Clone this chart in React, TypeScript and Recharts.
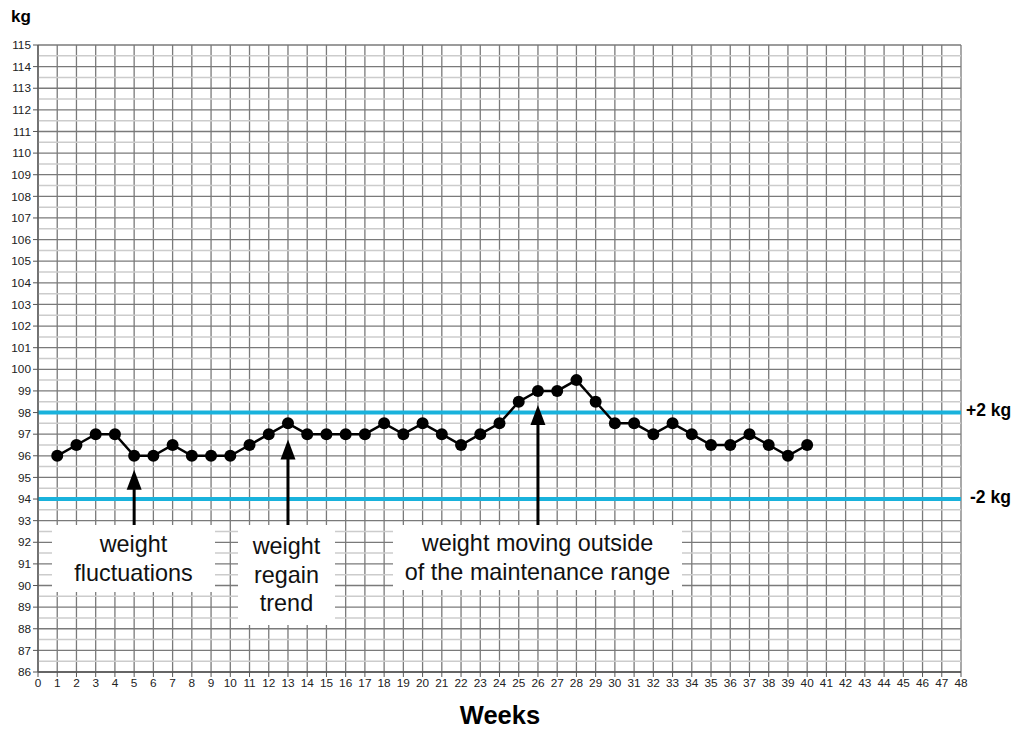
import {
  ComposedChart, Line, XAxis, YAxis, CartesianGrid, ReferenceLine, ReferenceDot,
} from 'recharts'

const weeks = [1, 2, 3, 4, 5, 6, 7, 8, 9, 10, 11, 12, 13, 14, 15, 16, 17, 18, 19, 20,
  21, 22, 23, 24, 25, 26, 27, 28, 29, 30, 31, 32, 33, 34, 35, 36, 37, 38, 39, 40]
const weights = [96, 96.5, 97, 97, 96, 96, 96.5, 96, 96, 96, 96.5, 97, 97.5, 97, 97, 97, 97, 97.5, 97, 97.5,
  97, 96.5, 97, 97.5, 98.5, 99, 99, 99.5, 98.5, 97.5, 97.5, 97, 97.5, 97, 96.5, 96.5, 97, 96.5, 96, 96.5]

const xTicks = Array.from({ length: 49 }, (_, i) => i)
const yTicks = Array.from({ length: 30 }, (_, i) => 86 + i)
const halfLines = Array.from({ length: 29 }, (_, i) => 86.5 + i)

const rangeLines = [98, 94]
const arrowWeeks = [5, 13, 26]
const arrowTips = [95.35, 96.75, 98.35]

const data = weeks.map((w, i) => ({ week: w, kg: weights[i] }))

const axisTick = { fontSize: 11.8, fill: '#222', fontFamily: 'Liberation Sans, Arial, sans-serif' }

const ArrowHead = (props: any) => {
  const { cx, cy } = props
  return <path d={`M${cx},${cy} L${cx - 7.5},${cy + 20} L${cx + 7.5},${cy + 20} Z`} fill="#000" />
}

const boxStyle = {
  position: 'absolute' as const,
  background: '#fff',
  fontFamily: 'Liberation Sans, Arial, sans-serif',
  fontSize: '23.4px',
  color: '#111',
  textAlign: 'center' as const,
  lineHeight: '28.5px',
  display: 'flex',
  flexDirection: 'column' as const,
  justifyContent: 'center',
}

const boldLabel = {
  position: 'absolute' as const,
  fontFamily: 'Liberation Sans, Arial, sans-serif',
  fontWeight: 700,
  color: '#000',
}

export default function App() {
  return (
    <div style={{ position: 'absolute', left: 0, top: 0, width: 1012, height: 729, background: '#fff', overflow: 'hidden' }}>
      <ComposedChart width={1012} height={729} data={data} margin={{ top: 45, right: 51, bottom: 0, left: 0 }}>
        {halfLines.map(v => (
          <ReferenceLine key={v} y={v} stroke="#cccccc" strokeWidth={1.5} />
        ))}
        <CartesianGrid stroke="#7a7a7a" strokeWidth={1.3} horizontalValues={yTicks} verticalValues={xTicks} />
        <XAxis
          dataKey="week" type="number" domain={[0, 48]} ticks={xTicks} interval={0}
          height={57} tick={axisTick} tickLine={{ stroke: '#555' }} tickSize={5}
          axisLine={{ stroke: '#555', strokeWidth: 1.3 }}
        />
        <YAxis
          type="number" domain={[86, 115]} ticks={yTicks} interval={0}
          width={38} tick={axisTick} tickLine={{ stroke: '#555' }} tickSize={5} tickMargin={2}
          axisLine={{ stroke: '#555', strokeWidth: 1.3 }}
        />
        {rangeLines.map(v => (
          <ReferenceLine key={v} y={v} stroke="#19b2dc" strokeWidth={4} />
        ))}
        {arrowWeeks.map((w, i) => (
          <ReferenceLine
            key={'s' + w}
            segment={[{ x: w, y: 91 }, { x: w, y: arrowTips[i] - 0.6 }]}
            stroke="#000" strokeWidth={3}
          />
        ))}
        {arrowWeeks.map((w, i) => (
          <ReferenceDot key={'h' + w} x={w} y={arrowTips[i]} r={1} shape={ArrowHead} />
        ))}
        <Line
          dataKey="kg" type="linear" stroke="#000" strokeWidth={2.5}
          dot={{ r: 6, fill: '#000', stroke: '#000', strokeWidth: 0 }}
          isAnimationActive={false}
        />
      </ComposedChart>

      <div style={{ ...boldLabel, left: 11, top: 7, fontSize: '17px' }}>kg</div>
      <div style={{ ...boldLabel, left: 966, top: 400, fontSize: '17.5px' }}>+2 kg</div>
      <div style={{ ...boldLabel, left: 970, top: 487, fontSize: '17.5px' }}>-2 kg</div>
      <div style={{ ...boldLabel, left: 400, top: 702, width: 200, textAlign: 'center', fontSize: '25.5px', lineHeight: '26px' }}>Weeks</div>

      <div style={{ ...boxStyle, left: 52, top: 525, width: 163, height: 67 }}>
        <div>weight</div>
        <div>fluctuations</div>
      </div>
      <div style={{ ...boxStyle, left: 238, top: 525, width: 97, height: 100 }}>
        <div>weight</div>
        <div>regain</div>
        <div>trend</div>
      </div>
      <div style={{ ...boxStyle, left: 393, top: 525, width: 289, height: 65 }}>
        <div>weight moving outside</div>
        <div>of the maintenance range</div>
      </div>
    </div>
  )
}
